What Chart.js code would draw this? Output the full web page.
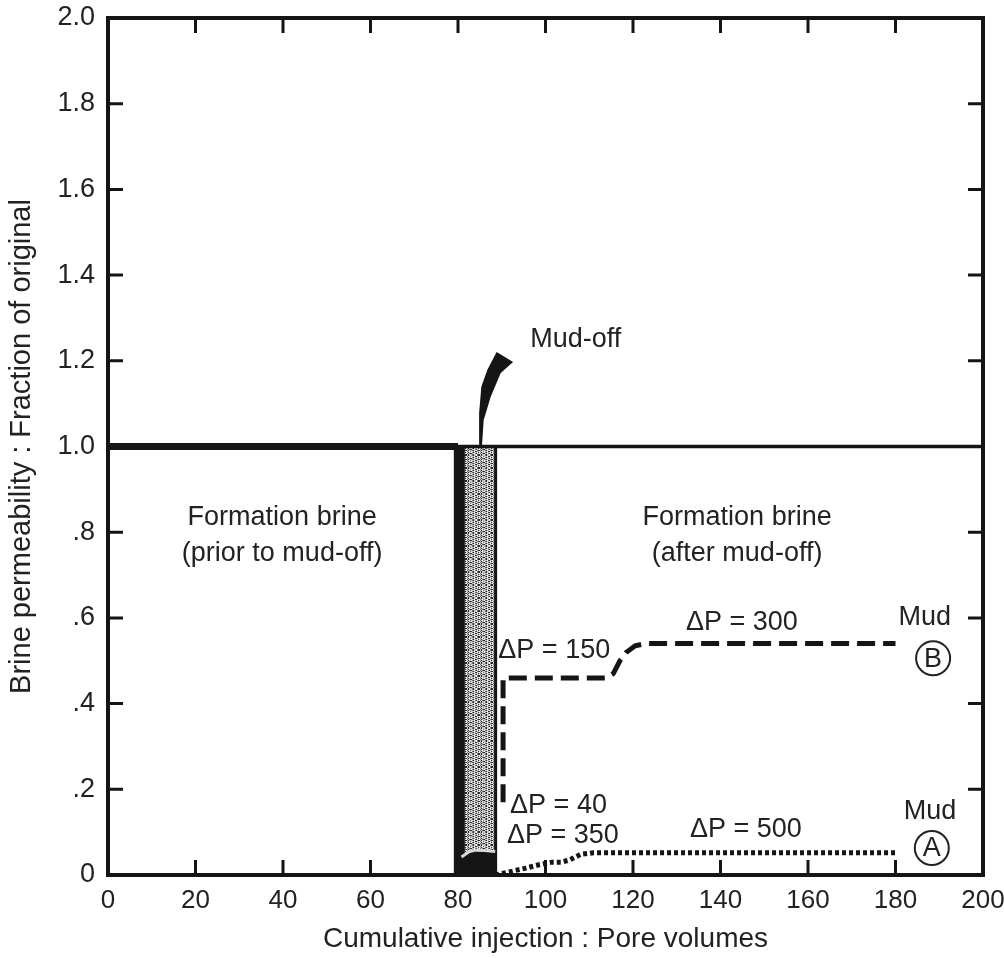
<!DOCTYPE html>
<html>
<head>
<meta charset="utf-8">
<script src="https://cdn.jsdelivr.net/npm/chart.js@4/dist/chart.umd.min.js"></script>
<style>
  html, body { margin: 0; padding: 0; background: #fff; }
  canvas { display: block; }
</style>
</head>
<body>
<canvas id="chart" width="1004" height="958"></canvas>
<script>
// axis ticks
const xTickValues = [0, 20, 40, 60, 80, 100, 120, 140, 160, 180, 200];
const yTickLabels = ["0", ".2", ".4", ".6", ".8", "1.0", "1.2", "1.4", "1.6", "1.8", "2.0"];

// formation brine before / after mud-off (y = 1.0)
const brineBeforeX = [0, 80];
const brineBeforeY = [1.0, 1.0];
const brineAfterX = [80, 200];
const brineAfterY = [1.0, 1.0];

// mud-off band (stippled), its edges and the dark foot
const bandX = [80.8, 80.8, 88.5, 88.5, 80.8];
const bandY = [0, 1.0, 1.0, 0, 0];
const bandLeftX = [80.3, 80.3];
const bandLeftY = [0, 1.0];
const bandRightX = [88.6, 88.6];
const bandRightY = [0, 1.0];
const footX = [79.8, 79.8, 81, 82.5, 84, 86, 88.8, 88.8, 79.8];
const footY = [0, 0.04, 0.046, 0.054, 0.058, 0.057, 0.055, 0, 0];

// delta P = 40 curve (inside the band)
const dp40X = [80.8, 82.5, 84, 86, 88.5];
const dp40Y = [0.042, 0.054, 0.058, 0.057, 0.055];

// mud-off horn
const hornX = [85.0, 85.0, 85.5, 86.9, 88.9, 92.3, 89.6, 87.3, 85.7, 85.3];
const hornY = [1.0, 1.078, 1.139, 1.179, 1.218, 1.197, 1.172, 1.116, 1.062, 1.0];

// mud B (dashed): dP = 150 then dP = 300
const mudBX = [90.3, 90.3, 114, 115.5, 117, 118.5, 120.5, 123, 180];
const mudBY = [0.17, 0.46, 0.46, 0.47, 0.5, 0.52, 0.535, 0.54, 0.54];

// mud A (dotted): dP = 350 then dP = 500
const mudAX = [88.5, 92, 95.5, 98.5, 101.5, 103.5, 105.5, 108, 111, 180];
const mudAY = [0.0, 0.008, 0.016, 0.024, 0.03, 0.03, 0.035, 0.048, 0.052, 0.052];

const pts = (xs, ys) => xs.map((x, i) => ({x, y: ys[i]}));

const INK = "#151515";
const TEXT = "#222";
const FONT = "'Liberation Sans', Arial, sans-serif";

function stipple() {
  const c = document.createElement("canvas");
  c.width = 13; c.height = 13;
  const g = c.getContext("2d");
  g.fillStyle = "#c8c8c8";
  g.fillRect(0, 0, 13, 13);
  for (let i = 0; i < 169; i++) {
    const k = (i * 37 + (i >> 2) * 11) % 13;
    if (k < 7) {
      g.fillStyle = k < 3 ? "#2a2a2a" : (k < 5 ? "#777" : "#fff");
      g.fillRect(i % 13, Math.floor(i / 13), 1, 1);
    }
  }
  return g.createPattern(c, "repeat");
}

const ctx = document.getElementById("chart").getContext("2d");

// labels placed in data units
const notes = [
  {text: "Formation brine", x: 39.8, y: 0.835, align: "center"},
  {text: "(prior to mud-off)", x: 39.8, y: 0.751, align: "center"},
  {text: "Formation brine", x: 143.8, y: 0.835, align: "center"},
  {text: "(after mud-off)", x: 143.8, y: 0.751, align: "center"},
  {text: "Mud-off", x: 96.5, y: 1.249, align: "left"},
  {text: "\u0394P = 150", x: 102, y: 0.523, align: "center"},
  {text: "\u0394P = 300", x: 144.9, y: 0.588, align: "center"},
  {text: "Mud", x: 186.7, y: 0.6, align: "center"},
  {text: "Mud", x: 187.9, y: 0.147, align: "center"},
  {text: "\u0394P = 500", x: 145.8, y: 0.107, align: "center"},
  {text: "\u0394P = 40", x: 91.9, y: 0.163, align: "left"},
  {text: "\u0394P = 350", x: 91.2, y: 0.093, align: "left"},
];
const circled = [
  {text: "B", x: 188.6, y: 0.506},
  {text: "A", x: 188.3, y: 0.063},
];

const framePlugin = {
  id: "frame",
  afterDraw(chart) {
    const {ctx, chartArea: a, scales: {x, y}} = chart;
    ctx.save();
    ctx.strokeStyle = INK;
    ctx.lineWidth = 3;
    const len = 15;
    xTickValues.slice(1, -1).forEach(v => {
      const px = x.getPixelForValue(v);
      ctx.beginPath();
      ctx.moveTo(px, a.bottom); ctx.lineTo(px, a.bottom - len);
      ctx.moveTo(px, a.top); ctx.lineTo(px, a.top + len);
      ctx.stroke();
    });
    yTickLabels.slice(1, -1).forEach((_, i) => {
      const py = y.getPixelForValue((i + 1) * 0.2);
      ctx.beginPath();
      ctx.moveTo(a.left, py); ctx.lineTo(a.left + len, py);
      ctx.moveTo(a.right, py); ctx.lineTo(a.right - len, py);
      ctx.stroke();
    });
    ctx.lineWidth = 4;
    ctx.strokeRect(a.left, a.top, a.right - a.left, a.bottom - a.top);

    ctx.fillStyle = TEXT;
    ctx.font = `27px ${FONT}`;
    ctx.textBaseline = "middle";
    notes.forEach(n => {
      ctx.textAlign = n.align;
      ctx.fillText(n.text, x.getPixelForValue(n.x), y.getPixelForValue(n.y));
    });
    ctx.textAlign = "center";
    ctx.lineWidth = 2;
    ctx.strokeStyle = TEXT;
    circled.forEach(c => {
      const cx = x.getPixelForValue(c.x), cy = y.getPixelForValue(c.y);
      ctx.beginPath();
      ctx.arc(cx, cy, 17, 0, Math.PI * 2);
      ctx.stroke();
      ctx.fillText(c.text, cx, cy + 1);
    });
    ctx.restore();
  }
};

const line = (data, style, order) => Object.assign({
  data, showLine: true, pointRadius: 0, fill: false, tension: 0,
  borderColor: INK, borderWidth: 3, order
}, style);

new Chart(ctx, {
  type: "scatter",
  data: {
    datasets: [
      line(pts(bandX, bandY), {fill: "shape", backgroundColor: stipple(), borderWidth: 0}, 10),
      line(pts(bandLeftX, bandLeftY), {borderWidth: 11}, 9),
      line(pts(bandRightX, bandRightY), {borderWidth: 3}, 9),
      line(pts(footX, footY), {fill: "shape", backgroundColor: INK, borderWidth: 1}, 8),
      line(pts(dp40X, dp40Y), {borderColor: "#d8d8d8", borderWidth: 3}, 7),
      line(pts(brineBeforeX, brineBeforeY), {borderWidth: 7}, 5),
      line(pts(brineAfterX, brineAfterY), {borderWidth: 3.5}, 6),
      line(pts(hornX, hornY), {fill: "shape", backgroundColor: INK, borderWidth: 1.5}, 5),
      line(pts(mudBX, mudBY), {borderWidth: 5, borderDash: [18, 8]}, 4),
      line(pts(mudAX, mudAY), {borderWidth: 5, borderDash: [4, 3]}, 4),
    ],
  },
  options: {
    responsive: false,
    animation: false,
    layout: {padding: {top: 18, right: 21, left: 0, bottom: 0}},
    plugins: {
      legend: {display: false},
      tooltip: {enabled: false},
    },
    scales: {
      x: {
        type: "linear", min: 0, max: 200,
        afterBuildTicks: s => { s.ticks = xTickValues.map(value => ({value})); },
        ticks: {color: TEXT, font: {size: 26, family: FONT}, padding: 10, maxRotation: 0},
        grid: {display: false, drawTicks: false},
        border: {display: false},
        title: {display: true, text: "Cumulative injection : Pore volumes",
          color: TEXT, font: {size: 28, family: FONT}, padding: {top: 0, bottom: 2}},
        afterFit: s => { s.height = 83; s.paddingLeft = 0; s.paddingRight = 0; },
      },
      y: {
        type: "linear", min: 0, max: 2,
        afterBuildTicks: s => { s.ticks = yTickLabels.map((_, i) => ({value: i * 0.2})); },
        ticks: {color: TEXT, font: {size: 27, family: FONT}, padding: 13,
          callback: (v, i) => yTickLabels[i]},
        grid: {display: false, drawTicks: false},
        border: {display: false},
        title: {display: true, text: "Brine permeability : Fraction of original",
          color: TEXT, font: {size: 29, family: FONT}, padding: {top: 5, bottom: 0}},
        afterFit: s => { s.width = 108; s.paddingTop = 0; s.paddingBottom = 0; },
      },
    },
  },
  plugins: [framePlugin],
});
</script>
</body>
</html>
